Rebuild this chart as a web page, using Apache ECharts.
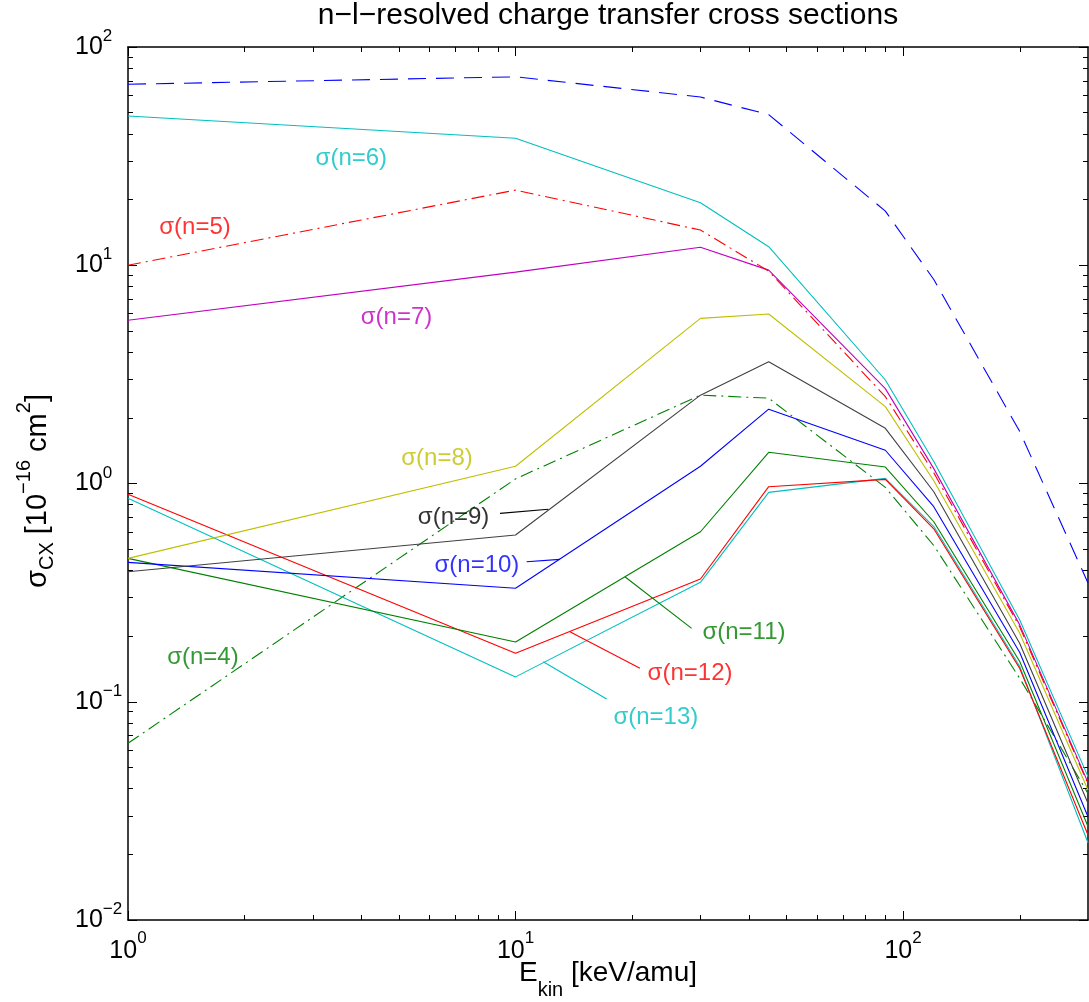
<!DOCTYPE html>
<html>
<head>
<meta charset="utf-8">
<script src="https://cdn.jsdelivr.net/npm/echarts@6/dist/echarts.min.js"></script>
<style>
  html, body { margin: 0; padding: 0; background: #fff; }
  #chart { width: 1089px; height: 1002px; }
</style>
</head>
<body>
<div id="chart"></div>
<script>
// Collision energies [keV/amu]
const energies = [1, 10, 30, 45, 90, 120, 200, 300];

// Charge transfer cross sections [1e-16 cm^2]
const sigmaTotal = [67.5, 73, 59, 49, 17.7, 8.6, 1.73, 0.35];
const sigmaN4  = [0.0645, 1.05, 2.54, 2.46, 0.96, 0.52, 0.128, 0.038];
const sigmaN5  = [10, 22.1, 14.5, 9.4, 2.5, 1.12, 0.22, 0.042];
const sigmaN6  = [48.3, 38.2, 19.35, 12.16, 2.98, 1.26, 0.237, 0.0454];
const sigmaN7  = [5.6, 9.3, 12.1, 9.5, 2.72, 1.17, 0.225, 0.0426];
const sigmaN8  = [0.454, 1.20, 5.71, 5.98, 2.25, 1.03, 0.206, 0.0394];
const sigmaN9  = [0.394, 0.581, 2.54, 3.61, 1.79, 0.917, 0.185, 0.0343];
const sigmaN10 = [0.435, 0.331, 1.20, 2.19, 1.42, 0.783, 0.168, 0.0297];
const sigmaN11 = [0.454, 0.188, 0.601, 1.39, 1.19, 0.668, 0.153, 0.0268];
const sigmaN12 = [0.892, 0.167, 0.365, 0.967, 1.045, 0.62, 0.142, 0.0245];
const sigmaN13 = [0.855, 0.130, 0.3525, 0.911, 1.056, 0.635, 0.145, 0.0226];

// Axis ticks
const xMajorTicks = [1, 10, 100];
const xMinorTicks = [2, 3, 4, 5, 6, 7, 8, 9, 20, 30, 40, 50, 60, 70, 80, 90, 200];
const yMajorTicks = [0.01, 0.1, 1, 10, 100];
const yMinorTicks = [0.02, 0.03, 0.04, 0.05, 0.06, 0.07, 0.08, 0.09,
                     0.2, 0.3, 0.4, 0.5, 0.6, 0.7, 0.8, 0.9,
                     2, 3, 4, 5, 6, 7, 8, 9,
                     20, 30, 40, 50, 60, 70, 80, 90];

// Curve labels, placed in data coordinates [E, sigma]
const labelTexts   = ['σ(n=4)', 'σ(n=5)', 'σ(n=6)', 'σ(n=7)', 'σ(n=8)', 'σ(n=9)',
                      'σ(n=10)', 'σ(n=11)', 'σ(n=12)', 'σ(n=13)'];
const labelEnergy  = [1.561, 1.489, 3.77, 4.93, 6.27, 6.92, 7.95, 38.85, 28.2, 23.02];
const labelSigma   = [0.1603, 14.97, 31.0, 5.76, 1.309, 0.702, 0.423, 0.2088, 0.1354, 0.0851];

// Leader lines from labels to curves: [E1, sigma1, E2, sigma2]
const leaderN9  = [9.12, 0.730, 12.15, 0.762];
const leaderN10 = [10.68, 0.438, 13.02, 0.449];
const leaderN11 = [19.15, 0.374, 28.47, 0.217];
const leaderN12 = [13.81, 0.2094, 20.94, 0.1423];
const leaderN13 = [11.79, 0.1526, 17.18, 0.103];

const FONT = "'Liberation Sans', Arial, Helvetica, sans-serif";
const DASH = [18, 10];
const DASHDOT = [13, 5, 2, 5];

const curves = [
  { name: 'total', values: sigmaTotal, color: '#0000ff', type: DASH },
  { name: 'n=4',  values: sigmaN4,  color: '#008000', type: DASHDOT },
  { name: 'n=13', values: sigmaN13, color: '#00bfbf', type: 'solid' },
  { name: 'n=12', values: sigmaN12, color: '#ff0000', type: 'solid' },
  { name: 'n=11', values: sigmaN11, color: '#008000', type: 'solid' },
  { name: 'n=10', values: sigmaN10, color: '#0000ff', type: 'solid' },
  { name: 'n=9',  values: sigmaN9,  color: '#404040', type: 'solid' },
  { name: 'n=8',  values: sigmaN8,  color: '#bfbf00', type: 'solid' },
  { name: 'n=7',  values: sigmaN7,  color: '#bf00bf', type: 'solid' },
  { name: 'n=5',  values: sigmaN5,  color: '#ff0000', type: DASHDOT },
  { name: 'n=6',  values: sigmaN6,  color: '#00bfbf', type: 'solid' }
];

const labelColors = ['#008000', '#ff0000', '#00bfbf', '#bf00bf', '#bfbf00', '#000000',
                     '#0000ff', '#008000', '#ff0000', '#00bfbf'];

const leaders = [
  { seg: leaderN9,  color: '#000000' },
  { seg: leaderN10, color: '#0000ff' },
  { seg: leaderN11, color: '#008000' },
  { seg: leaderN12, color: '#ff0000' },
  { seg: leaderN13, color: '#00bfbf' }
];

function powerLabel(v) {
  const e = Math.round(Math.log10(v));
  return '{b|10}{s|' + String(e).replace('-', '\u2212') + '}';
}

// Rich tokens are all top-aligned; each token's height sets where its text centre sits.
const richY = {
  b: { fontSize: 25, fontFamily: FONT, color: '#000', height: 38, lineHeight: 38, verticalAlign: 'top' },
  s: { fontSize: 17, fontFamily: FONT, color: '#000', height: 17, lineHeight: 17, verticalAlign: 'top' }
};
const richX = {
  b: { fontSize: 25, fontFamily: FONT, color: '#000', height: 42, lineHeight: 42, verticalAlign: 'top' },
  s: { fontSize: 17, fontFamily: FONT, color: '#000', height: 17, lineHeight: 17, verticalAlign: 'top' }
};

const frameLine = { show: true, onZero: false, lineStyle: { color: '#000', width: 1.5 } };
const noLine = { show: false };

function xAxisDef(position, ticks, len, showLine, showLabel) {
  return {
    type: 'log', logBase: 10, min: 1, max: 300, position: position,
    axisLine: showLine ? frameLine : noLine,
    axisTick: { show: true, inside: true, length: len, customValues: ticks,
                lineStyle: { color: '#000', width: 1 } },
    axisLabel: showLabel
      ? { show: true, customValues: xMajorTicks, formatter: powerLabel, rich: richX, margin: 10 }
      : { show: false },
    splitLine: { show: false }, minorTick: { show: false }
  };
}
function yAxisDef(position, ticks, len, showLine, showLabel) {
  return {
    type: 'log', logBase: 10, min: 0.01, max: 100, position: position,
    axisLine: showLine ? frameLine : noLine,
    axisTick: { show: true, inside: true, length: len, customValues: ticks,
                lineStyle: { color: '#000', width: 1 } },
    axisLabel: showLabel
      ? { show: true, customValues: yMajorTicks, formatter: powerLabel, rich: richY,
          margin: 53, align: 'left' }
      : { show: false },
    splitLine: { show: false }, minorTick: { show: false }
  };
}

const series = [];
curves.forEach(function (c) {
  series.push({
    name: c.name, type: 'line', xAxisIndex: 0, yAxisIndex: 0,
    data: energies.map(function (e, i) { return [e, c.values[i]]; }),
    showSymbol: false, symbol: 'none', silent: true,
    lineStyle: { color: c.color, width: 1.1, type: c.type },
    itemStyle: { color: c.color }
  });
});
leaders.forEach(function (l) {
  series.push({
    type: 'line', xAxisIndex: 0, yAxisIndex: 0, silent: true,
    data: [[l.seg[0], l.seg[1]], [l.seg[2], l.seg[3]]],
    showSymbol: false, symbol: 'none',
    lineStyle: { color: l.color, width: 1.1 }
  });
});
series.push({
  type: 'scatter', xAxisIndex: 0, yAxisIndex: 0, silent: true, z: 5,
  symbolSize: 1, itemStyle: { color: 'rgba(0,0,0,0)' },
  data: labelTexts.map(function (t, i) {
    return { name: t, value: [labelEnergy[i], labelSigma[i]],
             label: { color: labelColors[i] } };
  }),
  label: { show: true, position: 'inside', formatter: function (p) { return p.name; },
           fontSize: 24, fontFamily: FONT }
});

const chart = echarts.init(document.getElementById('chart'), null, { renderer: 'canvas' });
chart.setOption({
  animation: false,
  backgroundColor: '#fff',
  grid: { left: 128, right: 1, top: 47, bottom: 82, containLabel: false, outerBoundsMode: 'none' },
  xAxis: [
    xAxisDef('bottom', xMajorTicks, 9, true, true),
    xAxisDef('bottom', xMinorTicks, 5, false, false),
    xAxisDef('top', xMajorTicks, 9, true, false),
    xAxisDef('top', xMinorTicks, 5, false, false)
  ],
  yAxis: [
    yAxisDef('left', yMajorTicks, 9, true, true),
    yAxisDef('left', yMinorTicks, 5, false, false),
    yAxisDef('right', yMajorTicks, 9, true, false),
    yAxisDef('right', yMinorTicks, 5, false, false)
  ],
  series: series,
  graphic: [
    {
      type: 'text', x: 608, y: 16, silent: true,
      style: { text: 'n\u2212l\u2212resolved charge transfer cross sections',
               fontSize: 30, fontFamily: FONT, fill: '#000',
               align: 'center', verticalAlign: 'middle',
               textAlign: 'center', textVerticalAlign: 'middle' }
    },
    {
      type: 'text', x: 608, y: 959, silent: true,
      style: {
        text: '{m|E}{sub|kin}{m| [keV/amu]}',
        fill: '#000', align: 'center', verticalAlign: 'top',
        textAlign: 'center', textVerticalAlign: 'top',
        rich: {
          m: { fontSize: 28, fontFamily: FONT, fill: '#000', height: 28, lineHeight: 28, verticalAlign: 'top' },
          sub: { fontSize: 20, fontFamily: FONT, fill: '#000', height: 62, lineHeight: 62, verticalAlign: 'top' }
        }
      }
    },
    {
      type: 'text', x: 47.5, y: 491, rotation: Math.PI / 2, silent: true,
      style: {
        text: '{m|σ}{sub|CX}{m| [10}{sup|\u221216}{m| cm}{sup|2}{m|]}',
        fill: '#000', align: 'center', verticalAlign: 'middle',
        textAlign: 'center', textVerticalAlign: 'middle',
        rich: {
          m: { fontSize: 29, fontFamily: FONT, fill: '#000', height: 40, lineHeight: 40, verticalAlign: 'top' },
          sup: { fontSize: 20, fontFamily: FONT, fill: '#000', height: 12, lineHeight: 12, verticalAlign: 'top' },
          sub: { fontSize: 20, fontFamily: FONT, fill: '#000', height: 59, lineHeight: 59, verticalAlign: 'top' }
        }
      }
    }
  ]
});
</script>
</body>
</html>
